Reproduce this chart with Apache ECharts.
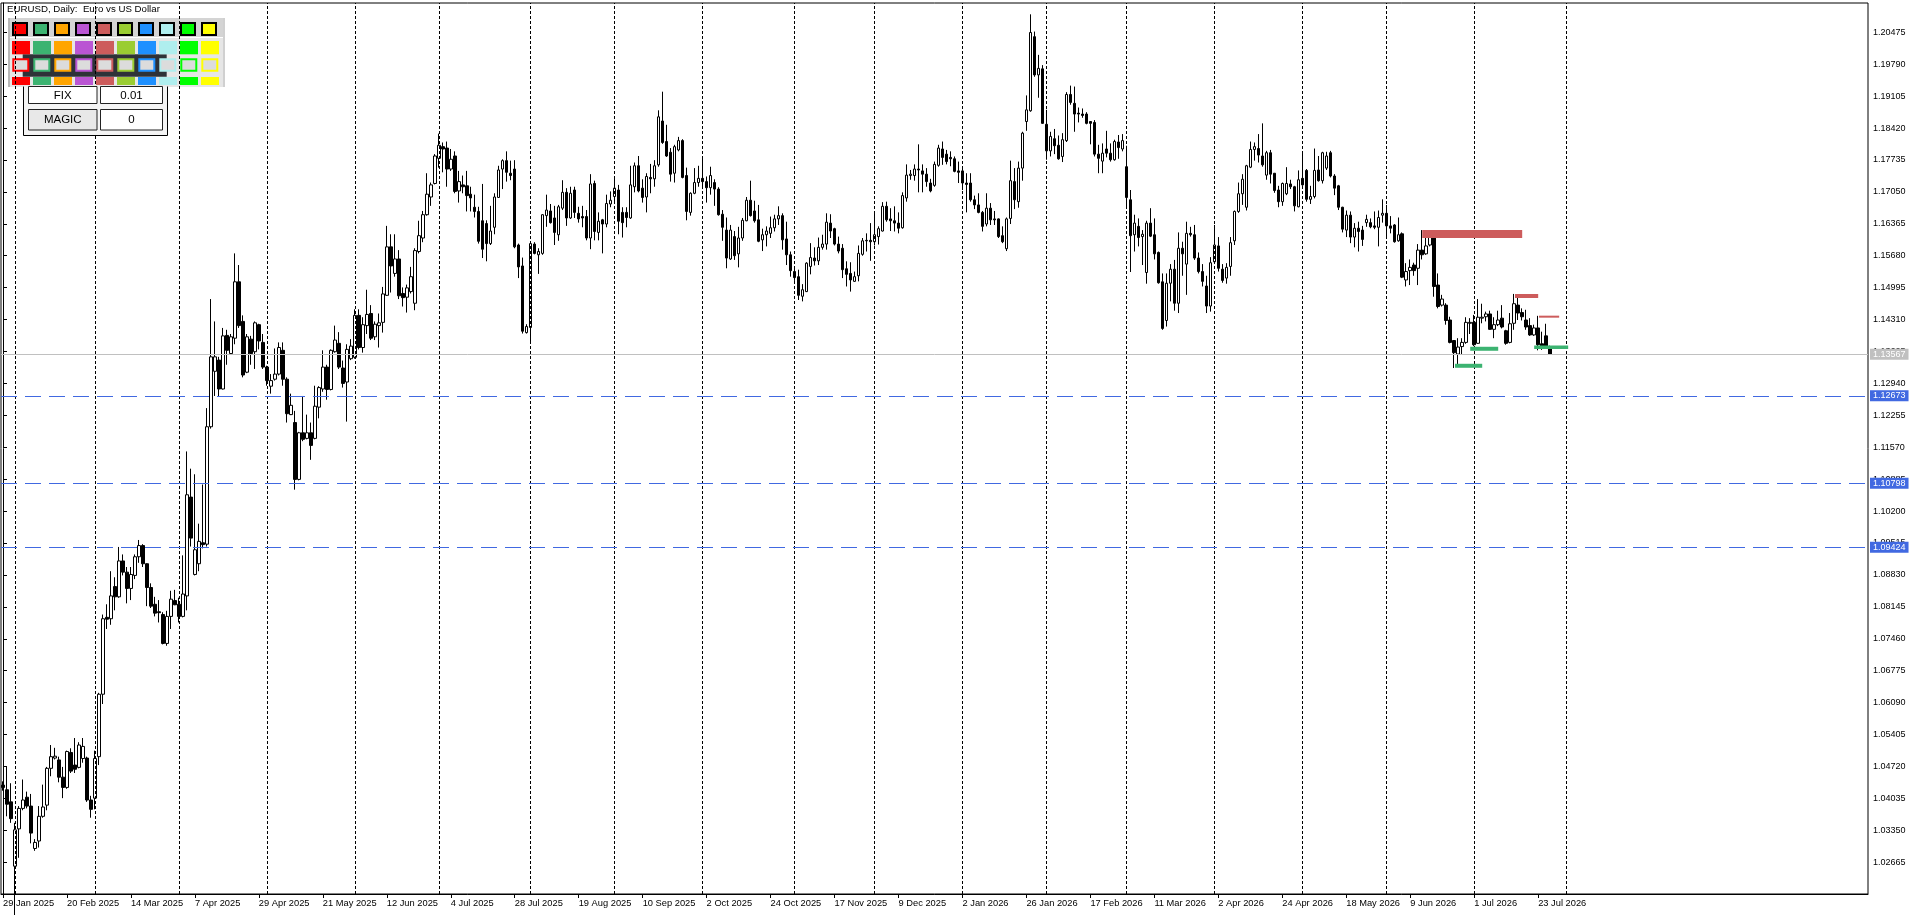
<!DOCTYPE html>
<html>
<head>
<meta charset="utf-8">
<script src="https://cdn.jsdelivr.net/npm/echarts@6/dist/echarts.min.js"></script>
<style>
html,body{margin:0;padding:0;background:#fff;overflow:hidden;}
#chart{width:1920px;height:915px;}
</style>
</head>
<body>
<div id="chart"></div>
<script>
// ---------------- DATA ----------------
const symbolTitle = 'EURUSD, Daily:  Euro vs US Dollar';
const firstSession = '2025-01-29';
const marketHolidays = ['2025-12-25', '2026-01-01'];
const slotCount = 467;          // bars that fit the window (incl. chart shift)
const labelStep = 16;           // one date label every 16 bars

const opens = [
1.0432,1.0422,1.0396,1.0258,1.0338,1.0382,1.0406,1.0387,1.0296,1.0312,
1.0365,1.0389,1.0468,1.0490,1.0486,1.0449,1.0427,1.0502,1.0475,1.0470,
1.0489,1.0490,1.0400,1.0404,1.0493,1.0627,1.0792,1.0789,1.0858,1.0836,
1.0913,1.0889,1.0854,1.0882,1.0922,1.0946,1.0907,1.0856,1.0820,1.0804,
1.0798,1.0736,1.0794,1.0828,1.0820,1.0794,1.0838,1.1050,1.0884,1.0907,
1.0952,1.0949,1.1201,1.1320,1.1344,1.1282,1.1397,1.1358,1.1391,1.1512,
1.1427,1.1318,1.1389,1.1362,1.1420,1.1382,1.1329,1.1288,1.1303,1.1314,
1.1365,1.1303,1.1227,1.1210,1.1088,1.1188,1.1176,1.1188,1.1176,1.1243,
1.1282,1.1329,1.1281,1.1362,1.1380,1.1327,1.1297,1.1347,1.1350,1.1440,
1.1371,1.1418,1.1444,1.1394,1.1418,1.1425,1.1483,1.1587,1.1530,1.1561,
1.1487,1.1479,1.1491,1.1466,1.1577,1.1606,1.1656,1.1694,1.1723,1.1777,
1.1802,1.1799,1.1754,1.1782,1.1707,1.1720,1.1718,1.1700,1.1672,1.1663,
1.1643,1.1637,1.1594,1.1629,1.1693,1.1754,1.1772,1.1745,1.1754,1.1591,
1.1546,1.1403,1.1414,1.1593,1.1570,1.1573,1.1654,1.1664,1.1649,1.1613,
1.1670,1.1704,1.1649,1.1709,1.1659,1.1652,1.1652,1.1606,1.1723,1.1618,
1.1645,1.1636,1.1679,1.1695,1.1709,1.1661,1.1661,1.1649,1.1716,1.1761,
1.1713,1.1694,1.1736,1.1733,1.1763,1.1857,1.1813,1.1790,1.1745,1.1795,
1.1815,1.1740,1.1661,1.1702,1.1725,1.1734,1.1727,1.1714,1.1725,1.1711,
1.1657,1.1623,1.1561,1.1609,1.1572,1.1606,1.1643,1.1687,1.1664,1.1645,
1.1602,1.1613,1.1616,1.1628,1.1647,1.1654,1.1604,1.1570,1.1534,1.1523,
1.1481,1.1491,1.1545,1.1563,1.1557,1.1586,1.1593,1.1638,1.1626,1.1593,
1.1584,1.1540,1.1530,1.1513,1.1525,1.1571,1.1601,1.1601,1.1598,1.1609,
1.1621,1.1674,1.1647,1.1643,1.1638,1.1628,1.1692,1.1740,1.1740,1.1754,
1.1750,1.1743,1.1724,1.1719,1.1762,1.1797,1.1786,1.1779,1.1776,1.1750,
1.1750,1.1724,1.1724,1.1688,1.1677,1.1661,1.1636,1.1670,1.1647,1.1647,
1.1611,1.1583,1.1648,1.1727,1.1684,1.1756,1.1856,1.1879,1.2038,1.1956,
1.1969,1.1850,1.1793,1.1819,1.1805,1.1781,1.1815,1.1914,1.1895,1.1874,
1.1872,1.1872,1.1856,1.1854,1.1786,1.1771,1.1797,1.1788,1.1774,1.1812,
1.1797,1.1759,1.1688,1.1613,1.1631,1.1609,1.1532,1.1638,1.1613,1.1575,
1.1512,1.1429,1.1509,1.1539,1.1466,1.1584,1.1550,1.1616,1.1613,1.1563,
1.1534,1.1503,1.1460,1.1555,1.1589,1.1539,1.1520,1.1545,1.1600,1.1663,
1.1701,1.1672,1.1758,1.1796,1.1798,1.1782,1.1741,1.1789,1.1745,1.1709,
1.1684,1.1701,1.1722,1.1716,1.1673,1.1734,1.1751,1.1689,1.1695,1.1752,
1.1729,1.1756,1.1789,1.1739,1.1718,1.1672,1.1623,1.1655,1.1608,1.1627,
1.1623,1.1639,1.1639,1.1632,1.1629,1.1655,1.1659,1.1632,1.1634,1.1600,
1.1615,1.1516,1.1536,1.1548,1.1541,1.1580,1.1572,1.1591,1.1613,1.1505,
1.1462,1.1462,1.1430,1.1386,1.1357,1.1373,1.1382,1.1423,1.1425,1.1380,
1.1434,1.1437,1.1443,1.1410,1.1420,1.1434,1.1407,1.1382,1.1423,1.1462,
1.1446,1.1430,1.1418,1.1398,1.1413,1.1379,1.1396,1.1373
];
const highs = [
1.0440,1.0471,1.0436,1.0351,1.0387,1.0444,1.0418,1.0413,1.0316,1.0387,
1.0433,1.0471,1.0518,1.0512,1.0493,1.0471,1.0506,1.0511,1.0533,1.0524,
1.0533,1.0493,1.0409,1.0506,1.0630,1.0798,1.0820,1.0891,1.0878,1.0943,
1.0927,1.0900,1.0900,1.0927,1.0958,1.0949,1.0908,1.0865,1.0836,1.0829,
1.0803,1.0806,1.0849,1.0851,1.0834,1.0925,1.1148,1.1111,1.1099,1.0993,
1.1077,1.1241,1.1475,1.1427,1.1351,1.1413,1.1409,1.1400,1.1573,1.1548,
1.1440,1.1400,1.1396,1.1427,1.1422,1.1400,1.1332,1.1314,1.1369,1.1382,
1.1382,1.1307,1.1272,1.1235,1.1190,1.1267,1.1227,1.1210,1.1289,1.1288,
1.1365,1.1334,1.1367,1.1418,1.1404,1.1343,1.1378,1.1389,1.1453,1.1453,
1.1436,1.1495,1.1462,1.1427,1.1444,1.1501,1.1632,1.1614,1.1614,1.1580,
1.1500,1.1506,1.1544,1.1584,1.1643,1.1664,1.1745,1.1725,1.1786,1.1830,
1.1811,1.1813,1.1797,1.1792,1.1750,1.1740,1.1750,1.1716,1.1699,1.1673,
1.1722,1.1644,1.1675,1.1702,1.1761,1.1775,1.1792,1.1772,1.1773,1.1594,
1.1564,1.1421,1.1597,1.1597,1.1584,1.1657,1.1699,1.1679,1.1675,1.1677,
1.1730,1.1713,1.1716,1.1716,1.1673,1.1675,1.1666,1.1743,1.1729,1.1661,
1.1647,1.1699,1.1706,1.1738,1.1720,1.1672,1.1672,1.1761,1.1768,1.1782,
1.1732,1.1745,1.1765,1.1773,1.1880,1.1920,1.1849,1.1799,1.1806,1.1823,
1.1818,1.1757,1.1704,1.1756,1.1761,1.1779,1.1738,1.1759,1.1732,1.1715,
1.1666,1.1650,1.1634,1.1621,1.1630,1.1649,1.1694,1.1729,1.1686,1.1677,
1.1626,1.1631,1.1652,1.1656,1.1674,1.1659,1.1641,1.1577,1.1545,1.1538,
1.1507,1.1554,1.1595,1.1586,1.1607,1.1613,1.1659,1.1657,1.1628,1.1609,
1.1593,1.1556,1.1554,1.1534,1.1590,1.1606,1.1616,1.1638,1.1663,1.1631,
1.1683,1.1684,1.1670,1.1674,1.1661,1.1704,1.1764,1.1752,1.1764,1.1807,
1.1764,1.1756,1.1733,1.1770,1.1806,1.1813,1.1795,1.1792,1.1781,1.1770,
1.1756,1.1745,1.1745,1.1697,1.1702,1.1664,1.1702,1.1681,1.1664,1.1648,
1.1631,1.1650,1.1772,1.1756,1.1770,1.1834,1.1912,1.2086,1.2049,1.1999,
1.1977,1.1881,1.1834,1.1840,1.1826,1.1831,1.1919,1.1933,1.1931,1.1886,
1.1884,1.1876,1.1857,1.1859,1.1806,1.1809,1.1836,1.1809,1.1817,1.1827,
1.1829,1.1804,1.1709,1.1656,1.1648,1.1623,1.1643,1.1670,1.1648,1.1577,
1.1530,1.1530,1.1550,1.1559,1.1618,1.1598,1.1641,1.1630,1.1634,1.1575,
1.1550,1.1525,1.1565,1.1634,1.1608,1.1550,1.1552,1.1608,1.1665,1.1725,
1.1743,1.1763,1.1813,1.1811,1.1829,1.1852,1.1793,1.1795,1.1745,1.1718,
1.1725,1.1758,1.1731,1.1718,1.1751,1.1791,1.1754,1.1718,1.1798,1.1782,
1.1791,1.1791,1.1793,1.1743,1.1720,1.1673,1.1665,1.1663,1.1638,1.1641,
1.1632,1.1656,1.1648,1.1663,1.1665,1.1689,1.1677,1.1653,1.1636,1.1650,
1.1618,1.1552,1.1560,1.1553,1.1593,1.1623,1.1622,1.1622,1.1622,1.1530,
1.1484,1.1466,1.1437,1.1387,1.1391,1.1391,1.1436,1.1434,1.1441,1.1475,
1.1465,1.1448,1.1450,1.1436,1.1450,1.1462,1.1409,1.1445,1.1486,1.1479,
1.1455,1.1452,1.1434,1.1420,1.1439,1.1405,1.1422,1.1375
];
const lows = [
1.0420,1.0365,1.0351,1.0141,1.0276,1.0378,1.0382,1.0307,1.0291,1.0298,
1.0362,1.0378,1.0451,1.0487,1.0438,1.0404,1.0424,1.0458,1.0458,1.0468,
1.0480,1.0396,1.0362,1.0380,1.0475,1.0606,1.0767,1.0776,1.0807,1.0834,
1.0882,1.0822,1.0829,1.0874,1.0909,1.0900,1.0816,1.0812,1.0794,1.0781,
1.0734,1.0731,1.0767,1.0818,1.0781,1.0792,1.0807,1.0944,1.0882,1.0891,
1.0940,1.0944,1.1197,1.1267,1.1265,1.1281,1.1334,1.1356,1.1378,1.1413,
1.1307,1.1316,1.1334,1.1325,1.1367,1.1325,1.1289,1.1272,1.1300,1.1311,
1.1289,1.1210,1.1226,1.1066,1.1086,1.1170,1.1174,1.1130,1.1174,1.1219,
1.1276,1.1259,1.1279,1.1360,1.1325,1.1285,1.1212,1.1344,1.1347,1.1367,
1.1360,1.1400,1.1387,1.1387,1.1371,1.1403,1.1482,1.1489,1.1523,1.1475,
1.1459,1.1446,1.1487,1.1451,1.1573,1.1597,1.1654,1.1675,1.1721,1.1757,
1.1747,1.1716,1.1750,1.1702,1.1682,1.1702,1.1663,1.1663,1.1650,1.1594,
1.1563,1.1556,1.1591,1.1614,1.1692,1.1711,1.1727,1.1730,1.1584,1.1520,
1.1401,1.1401,1.1384,1.1571,1.1529,1.1570,1.1630,1.1637,1.1591,1.1600,
1.1666,1.1632,1.1647,1.1649,1.1639,1.1629,1.1601,1.1582,1.1601,1.1601,
1.1573,1.1629,1.1672,1.1680,1.1614,1.1607,1.1629,1.1647,1.1704,1.1704,
1.1682,1.1661,1.1702,1.1716,1.1759,1.1808,1.1780,1.1727,1.1725,1.1792,
1.1734,1.1644,1.1654,1.1700,1.1716,1.1711,1.1682,1.1699,1.1675,1.1654,
1.1600,1.1541,1.1559,1.1559,1.1543,1.1600,1.1642,1.1652,1.1639,1.1597,
1.1578,1.1588,1.1606,1.1620,1.1634,1.1581,1.1548,1.1523,1.1514,1.1473,
1.1470,1.1490,1.1528,1.1547,1.1548,1.1581,1.1581,1.1606,1.1590,1.1573,
1.1520,1.1502,1.1491,1.1512,1.1513,1.1568,1.1577,1.1557,1.1590,1.1592,
1.1620,1.1641,1.1621,1.1620,1.1616,1.1626,1.1684,1.1731,1.1729,1.1704,
1.1704,1.1716,1.1704,1.1716,1.1759,1.1763,1.1764,1.1760,1.1747,1.1724,
1.1709,1.1661,1.1684,1.1668,1.1659,1.1620,1.1631,1.1634,1.1634,1.1606,
1.1595,1.1578,1.1636,1.1668,1.1671,1.1729,1.1836,1.1877,1.1952,1.1907,
1.1851,1.1774,1.1781,1.1786,1.1774,1.1769,1.1812,1.1892,1.1834,1.1854,
1.1864,1.1850,1.1807,1.1781,1.1745,1.1745,1.1779,1.1770,1.1772,1.1776,
1.1792,1.1670,1.1533,1.1577,1.1588,1.1548,1.1508,1.1608,1.1560,1.1508,
1.1409,1.1416,1.1470,1.1450,1.1445,1.1525,1.1484,1.1609,1.1559,1.1530,
1.1502,1.1445,1.1448,1.1552,1.1534,1.1510,1.1508,1.1525,1.1591,1.1660,
1.1677,1.1665,1.1756,1.1772,1.1768,1.1759,1.1731,1.1723,1.1703,1.1672,
1.1675,1.1698,1.1711,1.1663,1.1672,1.1718,1.1684,1.1679,1.1691,1.1727,
1.1723,1.1752,1.1736,1.1698,1.1666,1.1618,1.1608,1.1595,1.1586,1.1577,
1.1589,1.1630,1.1627,1.1625,1.1588,1.1639,1.1605,1.1616,1.1596,1.1598,
1.1520,1.1502,1.1505,1.1525,1.1505,1.1560,1.1570,1.1588,1.1480,1.1455,
1.1459,1.1420,1.1380,1.1327,1.1334,1.1355,1.1379,1.1400,1.1374,1.1379,
1.1423,1.1427,1.1409,1.1391,1.1417,1.1412,1.1377,1.1380,1.1409,1.1430,
1.1429,1.1409,1.1396,1.1396,1.1365,1.1366,1.1368,1.1355
];
const closes = [
1.0427,1.0391,1.0360,1.0336,1.0382,1.0400,1.0387,1.0329,1.0309,1.0365,
1.0385,1.0468,1.0493,1.0494,1.0449,1.0427,1.0504,1.0462,1.0466,1.0518,
1.0515,1.0400,1.0380,1.0489,1.0627,1.0789,1.0788,1.0838,1.0836,1.0913,
1.0889,1.0854,1.0884,1.0922,1.0946,1.0907,1.0856,1.0816,1.0801,1.0802,
1.0736,1.0794,1.0831,1.0819,1.0794,1.0842,1.1055,1.0962,1.0937,1.0955,
1.0948,1.1201,1.1351,1.1351,1.1282,1.1396,1.1365,1.1394,1.1512,1.1418,
1.1312,1.1394,1.1358,1.1424,1.1385,1.1329,1.1300,1.1300,1.1314,1.1371,
1.1303,1.1229,1.1247,1.1088,1.1188,1.1174,1.1188,1.1161,1.1245,1.1285,
1.1329,1.1281,1.1365,1.1387,1.1329,1.1294,1.1367,1.1374,1.1440,1.1371,
1.1420,1.1442,1.1391,1.1421,1.1424,1.1486,1.1587,1.1546,1.1561,1.1482,
1.1478,1.1499,1.1523,1.1579,1.1611,1.1656,1.1700,1.1720,1.1782,1.1805,
1.1797,1.1754,1.1775,1.1706,1.1727,1.1716,1.1697,1.1692,1.1663,1.1599,
1.1582,1.1594,1.1621,1.1694,1.1752,1.1772,1.1747,1.1740,1.1587,1.1544,
1.1406,1.1416,1.1594,1.1573,1.1577,1.1656,1.1666,1.1639,1.1618,1.1673,
1.1704,1.1649,1.1702,1.1661,1.1647,1.1649,1.1606,1.1722,1.1620,1.1642,
1.1636,1.1680,1.1687,1.1713,1.1642,1.1639,1.1650,1.1720,1.1761,1.1707,
1.1693,1.1738,1.1733,1.1761,1.1866,1.1811,1.1782,1.1743,1.1802,1.1815,
1.1736,1.1663,1.1702,1.1725,1.1734,1.1727,1.1714,1.1740,1.1711,1.1656,
1.1629,1.1563,1.1623,1.1568,1.1606,1.1644,1.1687,1.1654,1.1643,1.1599,
1.1613,1.1621,1.1628,1.1647,1.1654,1.1602,1.1570,1.1536,1.1521,1.1483,
1.1495,1.1552,1.1564,1.1557,1.1586,1.1593,1.1640,1.1621,1.1593,1.1578,
1.1538,1.1528,1.1516,1.1523,1.1573,1.1600,1.1600,1.1598,1.1613,1.1626,
1.1674,1.1645,1.1643,1.1638,1.1627,1.1697,1.1741,1.1743,1.1754,1.1752,
1.1743,1.1727,1.1707,1.1764,1.1799,1.1779,1.1770,1.1776,1.1749,1.1747,
1.1724,1.1721,1.1688,1.1677,1.1661,1.1631,1.1670,1.1645,1.1645,1.1609,
1.1598,1.1647,1.1729,1.1688,1.1756,1.1831,1.1881,1.2047,1.1956,1.1970,
1.1852,1.1793,1.1824,1.1804,1.1776,1.1817,1.1914,1.1897,1.1872,1.1872,
1.1869,1.1852,1.1852,1.1786,1.1777,1.1788,1.1788,1.1774,1.1813,1.1800,
1.1815,1.1693,1.1611,1.1638,1.1607,1.1614,1.1638,1.1610,1.1572,1.1510,
1.1412,1.1509,1.1539,1.1466,1.1584,1.1572,1.1616,1.1613,1.1563,1.1534,
1.1513,1.1460,1.1553,1.1591,1.1541,1.1515,1.1543,1.1596,1.1663,1.1701,
1.1732,1.1761,1.1796,1.1802,1.1784,1.1763,1.1789,1.1743,1.1708,1.1684,
1.1723,1.1723,1.1716,1.1675,1.1731,1.1720,1.1689,1.1695,1.1751,1.1729,
1.1789,1.1782,1.1739,1.1713,1.1672,1.1625,1.1655,1.1608,1.1627,1.1620,
1.1603,1.1646,1.1630,1.1629,1.1650,1.1659,1.1632,1.1627,1.1598,1.1613,
1.1522,1.1534,1.1543,1.1536,1.1580,1.1570,1.1589,1.1610,1.1502,1.1459,
1.1475,1.1429,1.1382,1.1360,1.1372,1.1382,1.1425,1.1425,1.1377,1.1436,
1.1436,1.1443,1.1410,1.1420,1.1430,1.1415,1.1380,1.1422,1.1465,1.1445,
1.1437,1.1415,1.1398,1.1413,1.1377,1.1370,1.1370,1.13567
];

// price axis tick labels
const yTicks = [1.02665,1.03350,1.04035,1.04720,1.05405,1.06090,1.06775,1.07460,1.08145,1.08830,
  1.09515,1.10200,1.10885,1.11570,1.12255,1.12940,1.13625,1.14310,1.14995,1.15680,
  1.16365,1.17050,1.17735,1.18420,1.19105,1.19790,1.20475];
const yMin = 1.01983, yMax = 1.21103;

// monthly separators (first session of each month)
const gridDates = ['2025-02-03','2025-03-03','2025-04-01','2025-05-01','2025-06-02','2025-07-01',
  '2025-08-01','2025-09-01','2025-10-01','2025-11-03','2025-12-01','2026-01-02','2026-02-02',
  '2026-03-02','2026-04-01','2026-05-01','2026-06-01','2026-07-01','2026-08-03'];

// horizontal price levels
const bidPrice = 1.13567;
const levelPrices = [1.12673, 1.10798, 1.09424];

// zone markers (bar position from .. to, price, kind)
const zoneStart = [355, 363.2, 367, 378.2, 384.2, 383];
const zoneEnd   = [380, 370, 374, 384, 389.25, 391.5];
const zonePrice = [1.16147, 1.13318, 1.13683, 1.14816, 1.14372, 1.13715];
const zoneKind  = ['high','low','low','high','high','low'];

// palette panel colours
const paletteColors = ['#ff0000','#3cb371','#ffa500','#ba55d3','#cd5c5c','#9acd32','#1e90ff','#afeeee','#00ff00','#ffff00'];

// ---------------- STYLE ----------------
const FONT = 'Liberation Sans';
const zoneColor = {high: '#cd5c5c', low: '#3cb371'};
const zoneThickness = [8, 4, 4, 4, 2, 3.5];
const MONTHS = ['Jan','Feb','Mar','Apr','May','Jun','Jul','Aug','Sep','Oct','Nov','Dec'];

function buildSessions(start, n, holidays) {
  const out = [];
  const d = new Date(start + 'T00:00:00Z');
  while (out.length < n) {
    const wd = d.getUTCDay();
    const s = d.toISOString().slice(0, 10);
    if (wd !== 0 && wd !== 6 && holidays.indexOf(s) < 0) out.push(s);
    d.setUTCDate(d.getUTCDate() + 1);
  }
  return out;
}
function fmtDate(s) {
  const p = s.split('-');
  return (+p[2]) + ' ' + MONTHS[+p[1] - 1] + ' ' + p[0];
}
const sessions = buildSessions(firstSession, slotCount, marketHolidays);
const showLabel = (i) => i % labelStep === 0 && i < closes.length;
const candleData = opens.map((o, i) => [o, closes[i], lows[i], highs[i]]);

// ---------------- GRAPHICS (panel) ----------------
const g = [];
g.push({type:'rect', z:0, silent:true, shape:{x:10, y:18, width:213, height:20}, style:{fill:'#d4d4d4'}});
g.push({type:'rect', z:0, silent:true, shape:{x:10, y:38, width:213, height:49}, style:{fill:'#e6e6e6'}});
g.push({type:'line', z:0, silent:true, shape:{x1:10, y1:37.5, x2:223, y2:37.5}, style:{stroke:'#ffffff', lineWidth:1}});
g.push({type:'rect', z:0, silent:true, shape:{x:8, y:18, width:2, height:69}, style:{fill:'#b8b8b8'}});
g.push({type:'rect', z:0, silent:true, shape:{x:223, y:18, width:2, height:69}, style:{fill:'#d0d0d0'}});
g.push({type:'rect', z:0, silent:true, shape:{x:22.7, y:54.3, width:144, height:22.4}, style:{fill:'#2e3238'}});
paletteColors.forEach((c, k) => {
  const x = 12 + 21 * k;
  g.push({type:'rect', z:0, silent:true, shape:{x:x + 1, y:23, width:14, height:12}, style:{fill:c, stroke:'#000', lineWidth:2}});
  g.push({type:'rect', z:0, silent:true, shape:{x:x, y:41, width:18, height:13.3}, style:{fill:c}});
  g.push({type:'rect', z:0, silent:true, shape:{x:x + 1.3, y:59.3, width:15, height:11.4}, style:{fill:'#dcdcdc', stroke:c, lineWidth:2}});
  g.push({type:'rect', z:0, silent:true, shape:{x:x, y:77, width:18, height:8}, style:{fill:c}});
});
g.push({type:'rect', z:50, silent:true, shape:{x:23, y:86.5, width:145, height:49.5}, style:{fill:'#f4f4f4'}});
g.push({type:'polyline', z:51, silent:true, shape:{points:[[23.5,86.5],[23.5,135.5],[167.5,135.5],[167.5,86.5]]}, style:{stroke:'#000', lineWidth:1, fill:null}});
const boxes = [
  {x:28.5, y:86.5, w:68.5, h:17, fill:'#ffffff', text:'FIX'},
  {x:100.5, y:86.5, w:62, h:17, fill:'#ffffff', text:'0.01'},
  {x:28.5, y:109.5, w:68.5, h:20.5, fill:'#e8e8e8', text:'MAGIC'},
  {x:100.5, y:109.5, w:62, h:20.5, fill:'#ffffff', text:'0'}
];
boxes.forEach(b => {
  g.push({type:'rect', z:52, silent:true, shape:{x:b.x, y:b.y, width:b.w, height:b.h}, style:{fill:b.fill, stroke:'#222', lineWidth:1}});
  g.push({type:'text', z:53, silent:true, x:b.x + b.w / 2, y:b.y + b.h / 2 + 0.5,
    style:{text:b.text, fill:'#000', font:'11.5px "' + FONT + '"', align:'center', verticalAlign:'middle'}});
});
g.push({type:'text', z:60, silent:true, x:7, y:4, style:{text:symbolTitle, fill:'#000', font:'9.7px "' + FONT + '"', align:'left', verticalAlign:'top'}});

// ---------------- CHART ----------------
const chart = echarts.init(document.getElementById('chart'), null, {renderer:'canvas'});
chart.setOption({
  animation: false,
  backgroundColor: '#ffffff',
  grid: {left:0, right:52, top:3, bottom:21, show:true, borderColor:'#000', borderWidth:1, backgroundColor:'transparent'},
  xAxis: [
    {
      type:'category', data:sessions, boundaryGap:true,
      axisLine:{show:true, lineStyle:{color:'#000', width:1}},
      axisTick:{show:true, alignWithLabel:true, length:4, interval:showLabel, lineStyle:{color:'#000'}},
      axisLabel:{show:true, interval:showLabel, formatter:fmtDate, align:'left', margin:5,
        fontSize:9.3, color:'#000', fontFamily:FONT},
      splitLine:{show:false}
    },
    {type:'value', min:-0.5, max:slotCount - 0.5, show:false}
  ],
  yAxis: {
    type:'value', position:'right', min:yMin, max:yMax, scale:true,
    axisLine:{show:true, lineStyle:{color:'#000', width:1}},
    axisTick:{show:true, inside:false, length:4, customValues:yTicks, lineStyle:{color:'#000'}},
    axisLabel:{show:true, customValues:yTicks, formatter:(v) => v.toFixed(5), margin:5,
      fontSize:9, color:'#000', fontFamily:FONT},
    splitLine:{show:false}
  },
  graphic: g,
  series: [
    {
      name:'month separators', type:'line', data:[], z:2, silent:true,
      markLine:{
        silent:true, animation:false, symbol:['none','none'],
        label:{show:false},
        lineStyle:{color:'#000', width:1, type:[3,2]},
        data: gridDates.map(d => ({xAxis:d}))
      }
    },
    {
      name:'EURUSD', type:'candlestick', data:candleData, z:3, barWidth:3, clip:true, silent:true,
      itemStyle:{color:'#ffffff', color0:'#000000', borderColor:'#000000', borderColor0:'#000000',
        borderColorDoji:'#000000', borderWidth:1}
    },
    {
      name:'levels', type:'line', data:[], z:5, silent:true,
      markLine:{
        silent:true, animation:false, symbol:['none','none'], precision:5,
        label:{show:true, position:'end', distance:2, color:'#ffffff', fontSize:9, fontFamily:FONT,
          padding:[1,3,1,3], lineHeight:9, formatter:(p) => Number(p.value).toFixed(5)},
        data: [
          {yAxis:bidPrice, lineStyle:{color:'#c0c0c0', type:'solid', width:1}, label:{backgroundColor:'#c0c0c0'}}
        ].concat(levelPrices.map(p => ({yAxis:p, lineStyle:{color:'#4169e1', type:[16,8], width:1}, label:{backgroundColor:'#4169e1'}})))
      }
    },
    {
      name:'zones', type:'custom', xAxisIndex:1, yAxisIndex:0, z:6, silent:true, clip:false,
      data: zonePrice.map((p, i) => [zoneStart[i], zoneEnd[i], p, i]),
      encode:{x:[0,1], y:2},
      renderItem:(params, api) => {
        const i = api.value(3);
        const a = api.coord([api.value(0), api.value(2)]);
        const b = api.coord([api.value(1), api.value(2)]);
        const h = zoneThickness[i];
        return {type:'rect', shape:{x:a[0], y:a[1] - h / 2, width:b[0] - a[0], height:h},
          style:{fill:zoneColor[zoneKind[i]]}};
      }
    }
  ]
});
</script>
</body>
</html>
